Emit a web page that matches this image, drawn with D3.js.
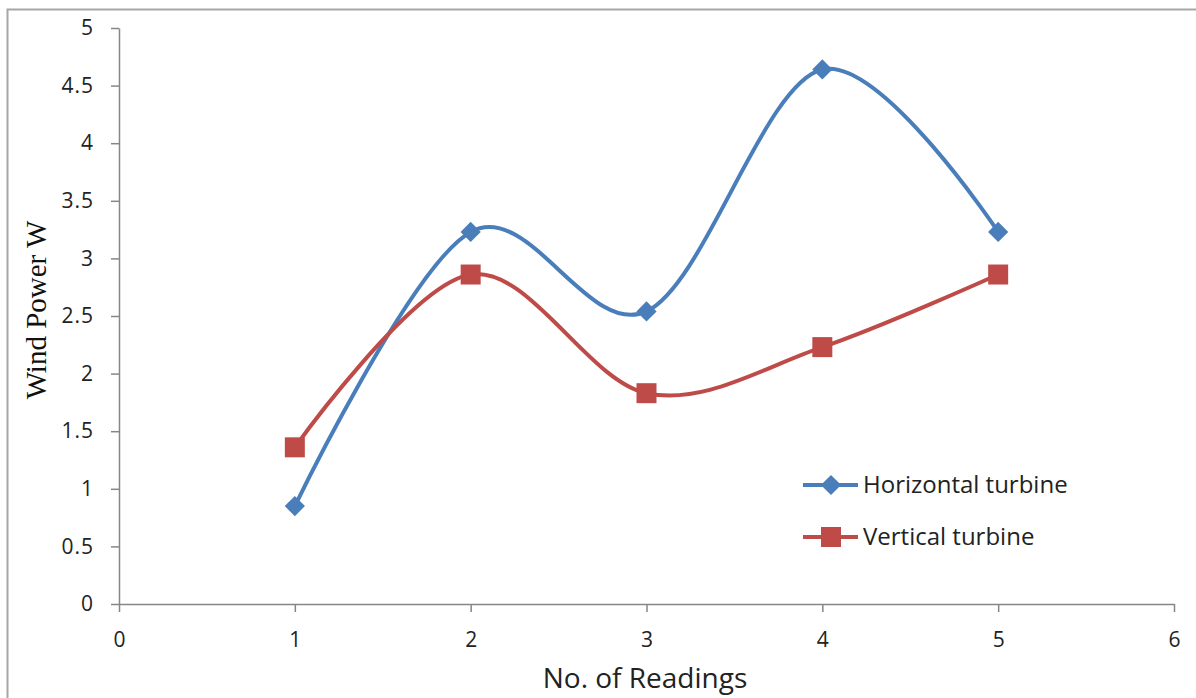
<!DOCTYPE html>
<html>
<head>
<meta charset="utf-8">
<script src="https://cdn.jsdelivr.net/npm/d3@7"></script>
<style>
  body { margin: 0; background: #fff; }
</style>
</head>
<body>
<div class="container"></div>
<script>
// chart data
const readings = [1, 2, 3, 4, 5];
const horizontal = [0.85, 3.23, 2.54, 4.64, 3.23];
const vertical = [1.36, 2.86, 1.83, 2.23, 2.86];
const xTicks = [0, 1, 2, 3, 4, 5, 6];
const yTicks = [0, 0.5, 1, 1.5, 2, 2.5, 3, 3.5, 4, 4.5, 5];
const seriesNames = ["Horizontal turbine", "Vertical turbine"];

const width = 1196;
const height = 698;
const margin = { top: 28, bottom: 94, left: 119, right: 22 };

const svg = d3.select(".container")
  .append("svg")
  .attr("width", width)
  .attr("height", height);

// outer frame
svg.append("rect")
  .attr("x", 7.5).attr("y", 9.5)
  .attr("width", width + 20).attr("height", height + 20)
  .attr("fill", "none")
  .attr("stroke", "#a6a6a6")
  .attr("stroke-width", 2);

const xScale = d3.scaleLinear()
  .domain([0, 6])
  .range([margin.left, width - margin.right]);

const yScale = d3.scaleLinear()
  .domain([0, 5])
  .range([height - margin.bottom, margin.top]);

const tickFont = "'Open Sans', 'Liberation Sans', sans-serif";

// x axis
const gx = svg.append("g")
  .attr("transform", `translate(0, ${yScale(0)})`)
  .call(d3.axisBottom(xScale).tickValues(xTicks).tickFormat(d3.format("d")).tickSize(8).tickSizeOuter(0));
gx.select(".domain").attr("stroke", "#868686").attr("stroke-width", 1.5);
gx.selectAll(".tick line").attr("stroke", "#868686").attr("stroke-width", 1.5);
gx.selectAll(".tick text")
  .attr("font-family", tickFont)
  .attr("font-size", "21px")
  .attr("fill", "#222")
  .attr("y", 24)
  .attr("dy", "0.9em");

// y axis
const gy = svg.append("g")
  .attr("transform", `translate(${xScale(0)}, 0)`)
  .call(d3.axisLeft(yScale).tickValues(yTicks).tickFormat(d => d3.format("~g")(d)).tickSize(8).tickSizeOuter(0));
gy.select(".domain").attr("stroke", "#868686").attr("stroke-width", 1.5);
gy.selectAll(".tick line").attr("stroke", "#868686").attr("stroke-width", 1.5);
gy.selectAll(".tick text")
  .attr("font-family", tickFont)
  .attr("font-size", "21px")
  .attr("letter-spacing", "1px")
  .attr("fill", "#222")
  .attr("x", -25);

// axis titles
svg.append("text")
  .attr("x", 645).attr("y", 688)
  .attr("text-anchor", "middle")
  .attr("font-family", tickFont)
  .attr("font-size", "28px")
  .attr("fill", "#222")
  .text("No. of Readings");

svg.append("text")
  .attr("transform", `translate(46, 310) rotate(-90)`)
  .attr("text-anchor", "middle")
  .attr("font-family", "'Liberation Serif', 'Times New Roman', serif")
  .attr("font-size", "29px")
  .attr("fill", "#111")
  .text("Wind Power W");

// smoothed lines like the spreadsheet chart
const line = d3.line()
  .x((d, i) => xScale(readings[i]))
  .y(d => yScale(d))
  .curve(d3.curveCardinal.tension(0));

const series = [
  { name: seriesNames[0], values: horizontal, color: "#4a7ebb", shape: d3.symbolDiamond2, size: 260 },
  { name: seriesNames[1], values: vertical, color: "#be4b48", shape: d3.symbolSquare, size: 400 }
];

series.forEach(s => {
  svg.append("path")
    .datum(s.values)
    .attr("fill", "none")
    .attr("stroke", s.color)
    .attr("stroke-width", 4)
    .attr("d", line);

  svg.append("g")
    .selectAll("path")
    .data(s.values)
    .join("path")
    .attr("transform", (d, i) => `translate(${xScale(readings[i])}, ${yScale(d)})`)
    .attr("d", d3.symbol().type(s.shape).size(s.size))
    .attr("fill", s.color);
});

// legend
const legend = svg.append("g").attr("transform", "translate(803, 485)");
series.forEach((s, i) => {
  const g = legend.append("g").attr("transform", `translate(0, ${i * 52})`);
  g.append("line")
    .attr("x1", 0).attr("x2", 55)
    .attr("stroke", s.color)
    .attr("stroke-width", 4);
  g.append("path")
    .attr("transform", "translate(28, 0)")
    .attr("d", d3.symbol().type(s.shape).size(s.size))
    .attr("fill", s.color);
  g.append("text")
    .attr("x", 60).attr("y", 8)
    .attr("font-family", tickFont)
    .attr("font-size", "24px")
    .attr("fill", "#222")
    .text(s.name);
});
</script>
</body>
</html>
